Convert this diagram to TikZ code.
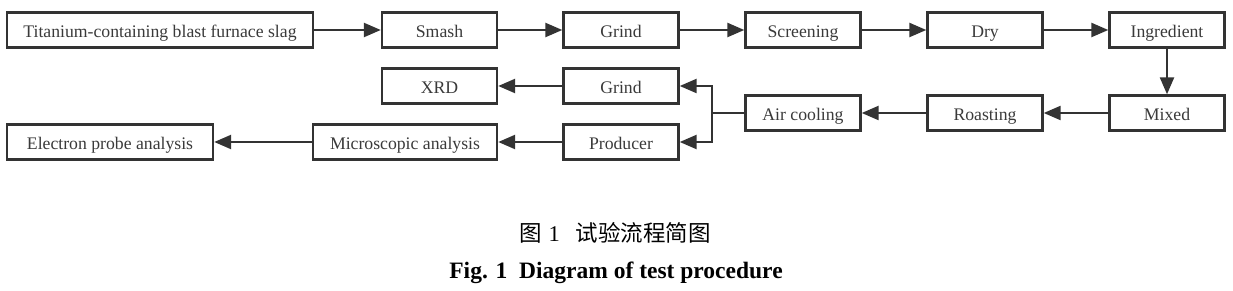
\documentclass[tikz,border=0pt]{standalone}
\usepackage{fontspec}
\setmainfont{Liberation Serif}
\newfontfamily\cjk{Noto Sans CJK SC}
\usetikzlibrary{arrows.meta}
\definecolor{boxc}{HTML}{333333}
\definecolor{txtc}{HTML}{3A3A3A}
\begin{document}
\begin{tikzpicture}[x=1pt,y=-1pt,
  box/.style={draw=boxc, line width=2.4pt, minimum height=35pt, inner sep=0pt,
    text=txtc, font=\fontsize{17.7}{20}\selectfont, text height=15.6pt, text depth=1pt, anchor=center},
  flow/.style={draw=boxc, line width=2.4pt, -{Triangle[length=17pt,width=14pt]}},
  plain/.style={draw=boxc, line width=2.4pt}]
\useasboundingbox (0,0) rectangle (1233,291);
% row 1
\node[box, minimum width=306pt] (ti) at (160,30) {Titanium-containing blast furnace slag};
\node[box, minimum width=115pt] (smash) at (439.5,30) {Smash};
\node[box, minimum width=115pt] (grind1) at (621,30) {Grind};
\node[box, minimum width=115pt] (screen) at (803,30) {Screening};
\node[box, minimum width=115pt] (dry) at (985,30) {Dry};
\node[box, minimum width=115pt] (ingr) at (1167,30) {Ingredient};
% row 2
\node[box, minimum width=115pt] (xrd) at (439.5,86) {XRD};
\node[box, minimum width=115pt] (grind2) at (621,86) {Grind};
% middle row
\node[box, minimum width=115pt] (air) at (803,113) {Air cooling};
\node[box, minimum width=115pt] (roast) at (985,113) {Roasting};
\node[box, minimum width=115pt] (mixed) at (1167,113) {Mixed};
% row 3
\node[box, minimum width=206pt] (ep) at (110,142) {Electron probe analysis};
\node[box, minimum width=184pt] (micro) at (405,142) {Microscopic analysis};
\node[box, minimum width=115pt] (prod) at (621,142) {Producer};
% junction
\coordinate (jn) at (712,113);
% connectors
\draw[flow] (ti) -- (smash);
\draw[flow] (smash) -- (grind1);
\draw[flow] (grind1) -- (screen);
\draw[flow] (screen) -- (dry);
\draw[flow] (dry) -- (ingr);
\draw[flow] (ingr) -- (mixed);
\draw[flow] (mixed) -- (roast);
\draw[flow] (roast) -- (air);
\draw[plain] (air.west) -- (jn);
\draw[flow] (jn) |- (grind2.east);
\draw[flow] (jn) |- (prod.east);
\draw[flow] (grind2) -- (xrd);
\draw[flow] (prod) -- (micro);
\draw[flow] (micro) -- (ep);
% caption
\node (cap1) at (615,233) {\fontsize{22.5}{26}\selectfont{\cjk 图}\hspace{0.3em}1\hspace{0.7em}{\cjk 试验流程简图}};
\node (cap2) at (616,273) {\fontsize{23.5}{26}\selectfont\bfseries Fig. 1\hspace{0.5em}Diagram of test procedure};
\end{tikzpicture}
\end{document}
